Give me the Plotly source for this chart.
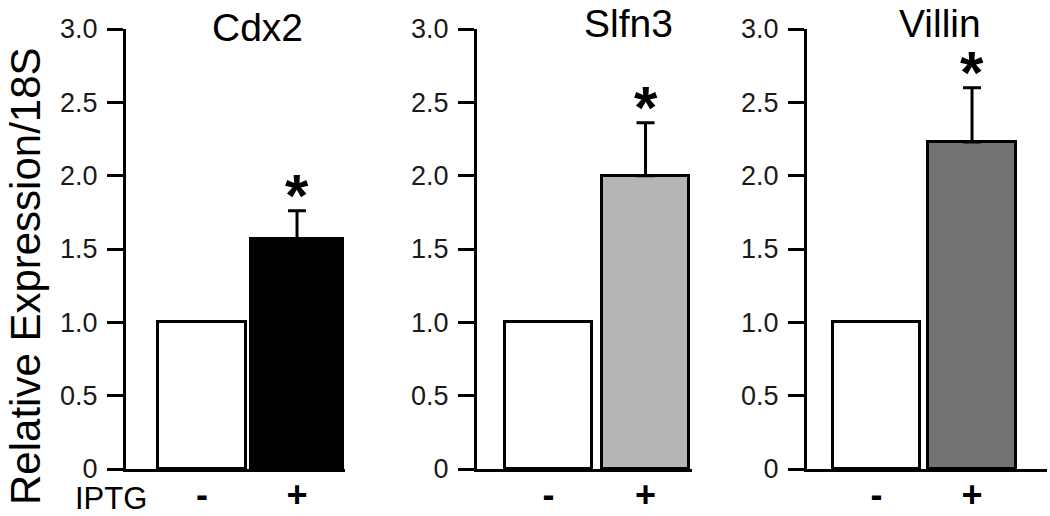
import plotly.graph_objects as go

# ---- data ----
genes = ["Cdx2", "Slfn3", "Villin"]
iptg_labels = ["-", "+"]
ctrl_values = [1.0, 1.0, 1.0]
iptg_values = [1.57, 2.0, 2.23]
iptg_errors = [0.19, 0.36, 0.37]
iptg_colors = ["#000000", "#b5b5b5", "#737373"]
y_tickvals = [0, 0.5, 1.0, 1.5, 2.0, 2.5, 3.0]
y_ticktext = ["0", "0.5", "1.0", "1.5", "2.0", "2.5", "3.0"]

W, H = 1050, 516
FONT = "Arial, Liberation Sans, sans-serif"

# panel geometry (pixels): y-axis line x, right end, x-range, bar widths
panels = [
    dict(x0=126, x1=345, rng=[-0.8, 1.505], widths=[0.926, 0.968], title_x=257, title_y=28),
    dict(x0=477, x1=692, rng=[-0.737, 1.479], widths=[0.897, 0.897], title_x=628, title_y=24),
    dict(x0=807, x1=1047, rng=[-0.728, 1.785], widths=[0.91, 0.92], title_x=940, title_y=24),
]
y_bot, y_top = 469, 29

fig = go.Figure()
annotations = []
for i, p in enumerate(panels):
    n = "" if i == 0 else str(i + 1)
    xa, ya = "x" + n, "y" + n
    fig.add_trace(go.Bar(
        x=[iptg_labels[0]], y=[ctrl_values[i]], width=[p["widths"][0]],
        marker=dict(color="white", line=dict(color="black", width=3)),
        xaxis=xa, yaxis=ya, showlegend=False))
    fig.add_trace(go.Bar(
        x=[iptg_labels[1]], y=[iptg_values[i]], width=[p["widths"][1]],
        marker=dict(color=iptg_colors[i], line=dict(color="black", width=3)),
        error_y=dict(type="data", symmetric=False, array=[iptg_errors[i]],
                     arrayminus=[0], color="black", thickness=3, width=9),
        xaxis=xa, yaxis=ya, showlegend=False))
    dom = [p["x0"] / W, p["x1"] / W]
    fig.layout["xaxis" + n] = dict(
        domain=dom, range=p["rng"], type="category", anchor=ya,
        showline=True, linewidth=3, linecolor="black", ticks="",
        showgrid=False, zeroline=False, automargin=False,
        ticklabelstandoff=-8,
        tickfont=dict(size=36, color="black", family=FONT, weight="bold"),
        categoryorder="array", categoryarray=iptg_labels, fixedrange=True)
    fig.layout["yaxis" + n] = dict(
        domain=[(H - y_bot) / H, (H - y_top) / H], range=[0, 3.0],
        anchor=xa, showline=True, linewidth=3, linecolor="black",
        ticks="outside", ticklen=16, tickwidth=3, tickcolor="black",
        tickvals=y_tickvals, ticktext=y_ticktext, automargin=False,
        showgrid=False, zeroline=False, ticklabelstandoff=4,
        tickfont=dict(size=27, color="#1a1a1a", family=FONT))
    annotations.append(dict(
        x=p["title_x"] / W, y=1 - p["title_y"] / H, xref="paper", yref="paper",
        text=genes[i], showarrow=False, xanchor="center", yanchor="middle",
        font=dict(size=39, color="black", family=FONT)))
    annotations.append(dict(
        x=iptg_labels[1], y=iptg_values[i] + iptg_errors[i], xref=xa, yref=ya,
        text="<b>*</b>", showarrow=False, xanchor="center", yanchor="bottom",
        yshift=-20, font=dict(size=60, color="black", family=FONT)))

annotations.append(dict(
    x=25 / W, y=1 - 276 / H, xref="paper", yref="paper",
    text="Relative Expression/18S", textangle=-90, showarrow=False,
    xanchor="center", yanchor="middle",
    font=dict(size=42, color="black", family=FONT)))
annotations.append(dict(
    x=111 / W, y=1 - 498 / H, xref="paper", yref="paper",
    text="IPTG", showarrow=False, xanchor="center", yanchor="middle",
    font=dict(size=31, color="black", family=FONT)))

fig.update_layout(
    width=W, height=H, margin=dict(l=0, r=0, t=0, b=0),
    paper_bgcolor="white", plot_bgcolor="white",
    annotations=annotations, bargap=0)

fig.write_html("out.html", config={"displayModeBar": False},
               post_script="document.body.style.margin='0';document.body.style.overflow='hidden';")
